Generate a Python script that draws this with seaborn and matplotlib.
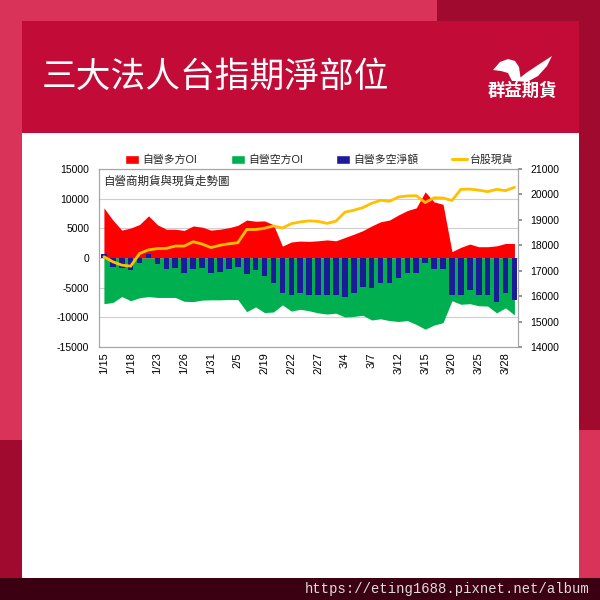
import numpy as np
import pandas as pd
import matplotlib
matplotlib.use("Agg")
import matplotlib.pyplot as plt
import seaborn as sns
from matplotlib.patches import Rectangle, Patch, Polygon
from matplotlib.lines import Line2D

# ---------------- data ----------------
dates = ["1/15", "1/16", "1/17", "1/18", "1/19", "1/22", "1/23", "1/24", "1/25", "1/26",
         "1/29", "1/30", "1/31", "2/1", "2/2", "2/5", "2/15", "2/16", "2/19", "2/20",
         "2/21", "2/22", "2/23", "2/26", "2/27", "2/29", "3/1", "3/4", "3/5", "3/6",
         "3/7", "3/8", "3/11", "3/12", "3/13", "3/14", "3/15", "3/18", "3/19", "3/20",
         "3/21", "3/22", "3/25", "3/26", "3/27", "3/28", "3/29"]

long_oi = [8450, 6400, 4700, 5050, 5650, 7100, 5600, 4850, 4850, 4650,
           5400, 5200, 4700, 4850, 5100, 5500, 6400, 6200, 6250, 5600,
           2000, 2700, 2850, 2800, 2900, 3050, 2900, 3450, 4000, 4600,
           5400, 6100, 6400, 7250, 8000, 8450, 11150, 9450, 9050, 1070,
           1800, 2350, 1900, 1900, 2050, 2450, 2450]

short_oi = [-7700, -7500, -6500, -7200, -6700, -6500, -6650, -6650, -6650, -7300,
            -7350, -7100, -7050, -7050, -7000, -7000, -9050, -8250, -9200, -9100,
            -7900, -8950, -8650, -8900, -9250, -9450, -9300, -9950, -9850, -9650,
            -10450, -10250, -10550, -10700, -10550, -11200, -12000, -11300, -10900, -7200,
            -7800, -7700, -8050, -8100, -9250, -8400, -9600]

net_oi = [600, -1450, -1650, -2000, -900, 650, -1000, -1900, -1750, -2600,
          -1900, -1750, -2600, -2400, -1900, -1450, -2700, -2000, -3000, -4150,
          -5950, -6250, -5850, -6250, -6250, -6250, -6250, -6500, -5850, -4950,
          -5100, -4150, -4150, -3450, -2450, -2600, -800, -1850, -1900, -6200,
          -6200, -5400, -6200, -6200, -7350, -5850, -7100]

taiex = [17550, 17350, 17220, 17180, 17680, 17820, 17870, 17880, 17970, 17970,
         18140, 18050, 17910, 18000, 18060, 18100, 18620, 18620, 18670, 18760,
         18680, 18850, 18920, 18960, 18940, 18860, 18950, 19300, 19380, 19480,
         19650, 19770, 19730, 19900, 19940, 19950, 19680, 19870, 19860, 19760,
         20200, 20210, 20170, 20110, 20200, 20150, 20280]

legend_labels = ["自營多方OI", "自營空方OI", "自營多空淨額", "台股現貨"]
title_text = "三大法人台指期淨部位"
subtitle_text = "自營商期貨與現貨走勢圖"
brand_text = "群益期貨"
url_text = "https://eting1688.pixnet.net/album"

# ---------------- style ----------------
sns.set_theme(style="white")
plt.rcParams["font.family"] = ["Liberation Sans", "Noto Sans CJK TC"]
plt.rcParams["axes.unicode_minus"] = False

C_RED = "#FF0000"
C_GREEN = "#00B050"
C_BLUE = "#1C1C98"
C_YELLOW = "#FFC000"

W = H = 600
fig = plt.figure(figsize=(6, 6), dpi=100)
fig.patch.set_facecolor("#DA3359")


def box(x0, y0, x1, y1, color, z=-2):
    fig.add_artist(Rectangle((x0 / W, 1 - y1 / H), (x1 - x0) / W, (y1 - y0) / H,
                             transform=fig.transFigure, facecolor=color,
                             edgecolor="none", zorder=z))


# decorative frame
box(437, 0, 600, 430, "#A00A2E")
box(0, 440, 22, 578, "#A00A2E")
box(22, 21, 579, 133, "#C20C37")
box(22, 133, 579, 578, "#FFFFFF")
box(0, 578, 600, 600, "#3B0012")

fig.text(42 / W, 1 - 77 / H, title_text, color="white", fontsize=25,
         ha="left", va="center", family=["Noto Sans CJK TC"])


def poly(pts, color="white"):
    fig.add_artist(Polygon([(x / W, 1 - y / H) for x, y in pts], closed=True,
                           transform=fig.transFigure, facecolor=color,
                           edgecolor="none", zorder=1))


poly([(493, 70), (500, 62), (508, 59), (515, 61), (519, 67), (521, 81),
      (512, 81), (508, 73), (501, 71)])
poly([(516, 81), (526, 73), (538, 65), (552, 56), (547, 66), (538, 76), (527, 82)])
fig.text(522 / W, 1 - 91 / H, brand_text, color="white", fontsize=12.5,
         ha="center", va="center", fontweight="bold", family=["Noto Sans CJK TC"])

fig.text(589 / W, 1 - 589 / H, url_text, color="#DDDDDD", fontsize=10,
         ha="right", va="center", family=["Liberation Mono", "DejaVu Sans Mono"])

# ---------------- chart ----------------
df = pd.DataFrame({"date": dates, "long": long_oi, "short": short_oi,
                   "net": net_oi, "taiex": taiex})
df["pos"] = np.arange(len(df))
n = len(df)

ax = fig.add_axes([99 / W, 1 - 347 / H, 419 / W, 178 / H])
ax.set_facecolor("white")

ax.fill_between(df["pos"], df["long"], 0, color=C_RED, lw=0, zorder=1)
ax.fill_between(df["pos"], df["short"], 0, color=C_GREEN, lw=0, zorder=1)
sns.barplot(data=df, x="date", y="net", order=dates, color=C_BLUE, saturation=1,
            width=0.63, errorbar=None, ax=ax, zorder=3)
for p in ax.patches:
    p.set_facecolor(C_BLUE)
    p.set_edgecolor("none")
    p.set_linewidth(0)
    p.set_fill(True)

ax2 = ax.twinx()
sns.lineplot(x=df["pos"], y=df["taiex"], ax=ax2, color=C_YELLOW, lw=2.0, zorder=4)

ax.set_ylim(-15000, 15000)
ax.set_yticks(range(-15000, 15001, 5000))
ax2.set_ylim(14000, 21000)
ax2.set_yticks(range(14000, 21001, 1000))
ax.set_xlim(-0.55, 46.4)

ax.set_xticks(range(0, n, 3))
ax.set_xticklabels(dates[::3], rotation=90, fontsize=8)
for a in (ax, ax2):
    a.set_xlabel("")
    a.set_ylabel("")
    for s in a.spines.values():
        s.set_color("#A6A6A6")
        s.set_linewidth(0.8)

ax.tick_params(axis="x", length=0, pad=4, labelsize=8, colors="black")
ax.tick_params(axis="y", length=0, pad=7, labelsize=7.5, colors="black")
ax2.tick_params(axis="y", right=True, length=3, pad=6, labelsize=7.5,
                color="#888888", labelcolor="black", direction="out")

ax.yaxis.grid(True, color="#CFCFCF", lw=0.8)
ax.xaxis.grid(False)
ax.set_axisbelow(True)

ax.text(0.01, 0.93, subtitle_text, transform=ax.transAxes, fontsize=8.3,
        ha="left", va="center", zorder=6, family=["Noto Sans CJK TC"])

handles = [Patch(facecolor=C_RED, label=legend_labels[0]),
           Patch(facecolor=C_GREEN, label=legend_labels[1]),
           Patch(facecolor=C_BLUE, label=legend_labels[2]),
           Line2D([], [], color=C_YELLOW, lw=2.2, label=legend_labels[3])]
fig.legend(handles=handles, loc="center", bbox_to_anchor=(319 / W, 1 - 160 / H),
           ncol=4, frameon=False, fontsize=7.8, handlelength=1.3,
           handleheight=0.9, columnspacing=3.1, handletextpad=0.3)

fig.savefig("out.png", dpi=100, facecolor=fig.get_facecolor())
